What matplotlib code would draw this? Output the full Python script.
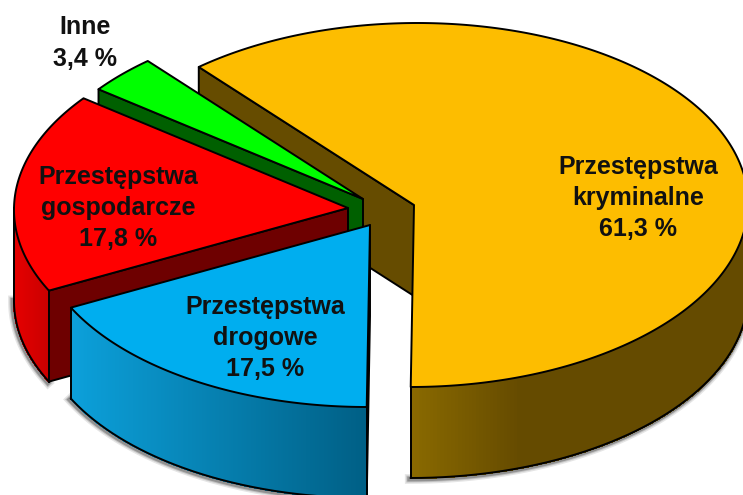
import numpy as np
import matplotlib
matplotlib.use('Agg')
import matplotlib.pyplot as plt
from matplotlib.collections import PolyCollection
from matplotlib.colors import to_rgb

# Slices clockwise, the biggest one ends at the bottom of the ellipse
labels = ['Przestępstwa\nkryminalne\n61,3 %', 'Przestępstwa\ndrogowe\n17,5 %',
          'Przestępstwa\ngospodarcze\n17,8 %', 'Inne\n3,4 %']
shares = [61.3, 17.5, 17.8, 3.4]
top_colors = ['#FDBD00', '#00AEEF', '#FF0000', '#00FF00']
side_colors = ['#664C00', '#00AEEF', '#6E0000', '#006000']

# Apex of each exploded slice, in pixels
apex_x = [414, 370, 348, 363]
apex_y = [205, 225, 208, 199]
label_x = [638, 265, 118, 85]
label_y = [198, 338, 208, 43]

# Outer wall gradient, left to right
wall_left = ['#8A6A00', '#0CA0DA', '#E40000', '#006000']
wall_right = ['#654B00', '#005F85', '#C80000', '#006000']

a, b = 334, 182    # ellipse semi-axes
depth = 91         # height of the pie
lean = -0.018      # the pie is slightly skewed

fig = plt.figure(figsize=(7.43, 4.95), dpi=100)
ax = fig.add_axes([0, 0, 1, 1])
ax.set_xlim(0, 743)
ax.set_ylim(495, 0)
ax.axis('off')

angles = np.array(shares) * 3.6
ends = 180 + np.cumsum(angles) - angles[0]
starts = ends - angles


def rim(cx, cy, t):
    t = np.radians(t)
    dy = -b * np.cos(t)
    return cx + a * np.sin(t) + lean * dy, cy + dy


def draw_slice(i, z):
    cx, cy = apex_x[i], apex_y[i]
    t = np.linspace(starts[i], ends[i], 361)
    x, y = rim(cx, cy, t)

    # only the front of the rim shows a wall
    low = (t >= 90) & (t <= 270)
    xl, yl = x[low], y[low]

    # soft shadow below the walls
    for w, al in zip([7, 5, 3.5], [0.10, 0.15, 0.25]):
        ax.plot(xl - 1, yl + depth + 1, color='k', lw=w, alpha=al, zorder=z)

    # wall along the first cut, the other one is hidden
    ax.fill([x[0], cx, cx, x[0]], [y[0], cy, cy + depth, y[0] + depth],
            fc=side_colors[i], ec='k', lw=1.4, joinstyle='round', zorder=z)

    # outer wall, cut in strips to get the gradient
    quads, cols = [], []
    c0, c1 = np.array(to_rgb(wall_left[i])), np.array(to_rgb(wall_right[i]))
    for k in range(len(xl) - 1):
        quads.append([(xl[k], yl[k]), (xl[k + 1], yl[k + 1]),
                      (xl[k + 1], yl[k + 1] + depth), (xl[k], yl[k] + depth)])
        if i == 0:
            f = np.clip((xl[k] - 411) / 110, 0, 1)
        elif i == 2:
            f = np.clip((xl[k] - 15) / 35, 0, 1)
        else:
            f = np.clip((xl[k] - xl.min()) / (xl.max() - xl.min()), 0, 1)
        cols.append(c0 + (c1 - c0) * f)
    if quads:
        ax.add_collection(PolyCollection(quads, facecolors=cols, edgecolors=cols, linewidths=0.8,
                                         antialiaseds=False, zorder=z))
        ax.plot(xl, yl + depth, color='k', lw=1.4, zorder=z)
        ax.plot([xl[0], xl[0]], [yl[0], yl[0] + depth], color='k', lw=1.4, zorder=z)
        ax.plot([xl[-1], xl[-1]], [yl[-1], yl[-1] + depth], color='k', lw=1.4, zorder=z)

    # top face
    ax.fill(np.r_[cx, x], np.r_[cy, y], fc=top_colors[i], ec='k', lw=1.4, joinstyle='round', zorder=z)


for z, i in enumerate([0, 3, 2, 1]):
    draw_slice(i, z + 1)

for i in range(len(labels)):
    ax.text(label_x[i], label_y[i], labels[i], ha='center', va='center', ma='center',
            family='Liberation Sans', fontweight='bold', fontsize=18, color='#111111',
            linespacing=1.37, zorder=10)

fig.savefig('out.png', dpi=100)
